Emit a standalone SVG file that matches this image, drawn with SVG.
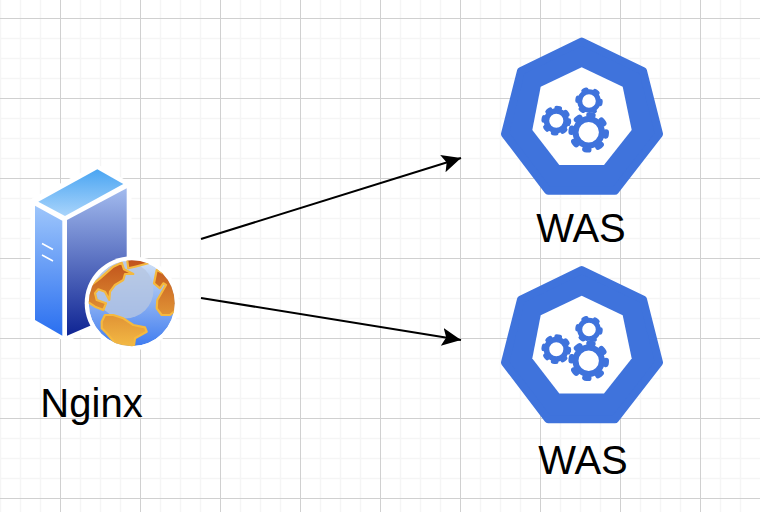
<svg xmlns="http://www.w3.org/2000/svg" width="760" height="512" viewBox="0 0 760 512">
<style>
.minor{stroke:#f5f5f5;stroke-width:1.5;fill:none}
.major{stroke:#d0d0d0;stroke-width:1;fill:none}
.lbl{font-family:"Liberation Sans",Arial,sans-serif;font-size:40px;fill:#000;text-anchor:middle}
.conn{stroke:#000;stroke-width:2;fill:none;marker-end:url(#arrow)}
.k{fill:#3f73dc}
.g{fill:none;stroke:#3f73dc}
.t{fill:none;stroke:#3f73dc;stroke-linecap:round}
.ld{fill:url(#land);stroke:#f5b93f;stroke-width:2.2;stroke-linejoin:round}
</style>
<defs>
<marker id="arrow" markerUnits="userSpaceOnUse" markerWidth="22" markerHeight="22" refX="19" refY="9" orient="auto"><path d="M0 0L19 9L0 18L4 9Z" fill="#000"/></marker>
<linearGradient id="top" x1="0" y1="0" x2="0" y2="1"><stop offset="0" stop-color="#4aa5f2"/><stop offset="1" stop-color="#a9d4fb"/></linearGradient>
<linearGradient id="left" x1="0" y1="0" x2="0" y2="1"><stop offset="0" stop-color="#9ec6fb"/><stop offset="1" stop-color="#2a6ff0"/></linearGradient>
<linearGradient id="right" x1="0" y1="0" x2="0" y2="1"><stop offset="0" stop-color="#a3bbee"/><stop offset="1" stop-color="#0f2493"/></linearGradient>
<linearGradient id="sea" x1="0" y1="0" x2="0" y2="1"><stop offset="0" stop-color="#d3e2f5"/><stop offset="1" stop-color="#3f7cf0"/></linearGradient>
<linearGradient id="land" gradientUnits="userSpaceOnUse" x1="0" y1="258" x2="0" y2="348"><stop offset="0" stop-color="#bf4f1a"/><stop offset="1" stop-color="#f4bb45"/></linearGradient>
<clipPath id="gc"><circle cx="131.7" cy="303.3" r="43"/></clipPath>
<g id="wasIcon">
<path class="k" stroke="#3f73dc" stroke-width="8" stroke-linejoin="round" d="M581.7 41.5L643 71L659 134L615 190.700L548 190.700L505 134L521 71Z"/>
<path fill="#fff" d="M581.7 67.3L622.7 86.7L631.7 130L604 165L559.3 165L532.3 130L540.7 86.7Z"/>
<circle class="g" cx="589" cy="101" r="9.300" stroke-width="5"/>
<circle class="t" cx="589" cy="101" r="11.500" stroke-width="4.500" stroke-dasharray="3 9.040"/>
<circle class="g" cx="556.3" cy="120.7" r="9.800" stroke-width="5.500"/>
<circle class="t" cx="556.3" cy="120.7" r="12.500" stroke-width="4.800" stroke-dasharray="3 6.820"/>
<circle cx="588.700" cy="132.300" r="20" fill="#fff"/>
<circle class="g" cx="588.700" cy="132.300" r="13.200" stroke-width="6"/>
<circle class="t" cx="588.700" cy="132.300" r="17.300" stroke-width="6" stroke-dasharray="3.500 10.090"/>
</g>
</defs>
<rect width="760" height="512" fill="#fff"/>
<g id="grid">
<path class="minor" d="M.5 0V512M20.5 0V512M40.5 0V512M80.5 0V512M100.5 0V512M120.5 0V512M160.5 0V512M180.5 0V512M200.5 0V512M240.5 0V512M260.5 0V512M280.5 0V512M320.5 0V512M340.5 0V512M360.5 0V512M400.5 0V512M420.5 0V512M440.5 0V512M480.5 0V512M500.5 0V512M520.5 0V512M560.5 0V512M580.5 0V512M600.5 0V512M640.5 0V512M660.5 0V512M680.5 0V512M720.5 0V512M740.5 0V512"/>
<path class="minor" d="M0 38.5H760M0 58.5H760M0 78.5H760M0 118.5H760M0 138.5H760M0 158.5H760M0 198.5H760M0 218.5H760M0 238.5H760M0 278.5H760M0 298.5H760M0 318.5H760M0 358.5H760M0 378.5H760M0 398.5H760M0 438.5H760M0 458.5H760M0 478.5H760"/>
<path class="major" d="M60.5 0V512M140.5 0V512M220.5 0V512M300.5 0V512M380.5 0V512M460.5 0V512M540.5 0V512M620.5 0V512M700.5 0V512M0 18.5H760M0 98.5H760M0 178.5H760M0 258.5H760M0 338.5H760M0 418.5H760M0 498.5H760"/>
</g>
<g id="connectors">
<path class="conn" d="M201 239L461 158"/>
<path class="conn" d="M201 298L461 340"/>
</g>
<g id="nginx">
<path fill="#fff" stroke="#fff" stroke-width="9" stroke-linejoin="round" d="M97.3 169.3L127 186V310L66 337L35 320V201.7Z"/>
<path fill="url(#top)" d="M97.3 169.3L123.3 184L65 216L38.3 201.7Z"/>
<path fill="url(#left)" d="M35 205.7L62.3 220.7V335.7L35 320Z"/>
<path fill="url(#right)" d="M67 220L126.7 188.3V310L67 335.7Z"/>
<path stroke="#fff" stroke-width="1.5" d="M42 243.5L53 249.5M42 255L53 261" fill="none"/>
<circle cx="131.7" cy="303.3" r="47" fill="#fff"/>
<g clip-path="url(#gc)">
<circle cx="131.7" cy="303.3" r="43" fill="url(#sea)"/>
<circle cx="125" cy="290" r="28.500" fill="#b5c6e1" opacity=".8"/>
<path class="ld" d="M128.3 268.3L135 266.7L148.3 263.3L143 256L126.700 256Z"/>
<path class="ld" d="M85 290L100 278.3L113.3 266.7L121.7 262.7L124 269.3L133.3 274L125 274L123.3 280L115 285L110 291.7L109.3 300L105 291.7L98.3 289.3L95 293.3L96.7 300L106 303.3L103.3 310L95 306.7L85 300Z"/>
<path class="ld" d="M101.7 321.7L105 315L113.3 315L123.3 318.300L133.3 325L145 327.3L146.7 331.7L135 338.3L133.3 350L116.7 345L106.7 333.3L101.700 328.300Z"/>
<path class="ld" d="M156.7 270L154 283.3L160 288.3L163.300 283.300L166 285L157.300 300L156.700 308.300L161.700 315L170 315L178 308.300L178 286.700L166.700 275Z"/>
</g>
</g>
<g id="was1"><use href="#wasIcon"/><text class="lbl" x="581" y="242">WAS</text></g>
<g id="was2"><use href="#wasIcon" y="228.500"/><text class="lbl" x="583" y="474">WAS</text></g>
<g id="nginxLabel"><text class="lbl" x="91.500" y="417">Nginx</text></g>
</svg>
